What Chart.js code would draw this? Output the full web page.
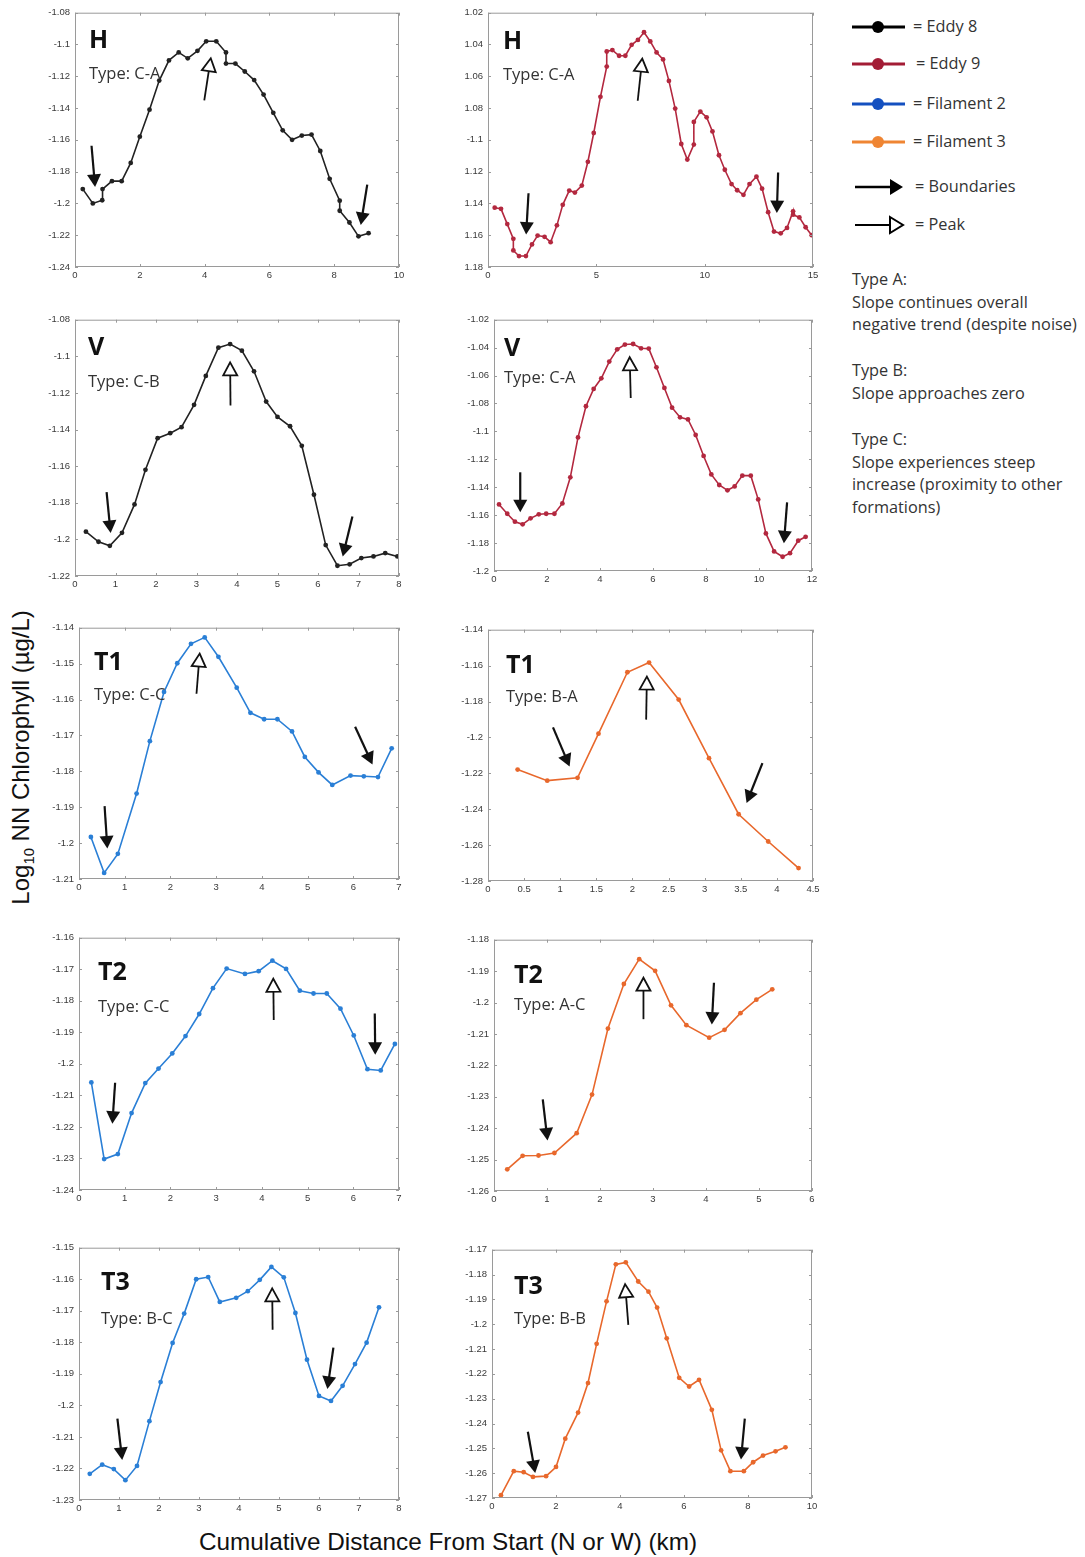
<!DOCTYPE html>
<html>
<head>
<meta charset="utf-8">
<script src="https://cdn.jsdelivr.net/npm/chart.js@4.4.1/dist/chart.umd.min.js"></script>
<style>
  body { margin: 0; background: #fff; }
  #page { position: relative; width: 1085px; height: 1557px; background: #fff; overflow: hidden; }
  canvas { position: absolute; }
  .axis-label { position: absolute; font-family: "Liberation Sans", Arial, sans-serif; color: #111; white-space: pre; text-align: center; }
  .axis-label sub { font-size: 0.62em; }
  .legend-text { position: absolute; font-family: "Open Sans", sans-serif; font-size: 16.3px; color: #333; white-space: nowrap; line-height: 22.7px; }
</style>
</head>
<body>
<div id="page">
  <div class="axis-label" id="ylab" style="font-size:24px; width:400px; left:-178px; top:742px; transform:rotate(-90deg);">Log<sub>10</sub> NN Chlorophyll (µg/L)</div>
  <div class="axis-label" id="xlab" style="font-size:24.3px; width:896px; left:0; top:1528px;">Cumulative Distance From Start (N or W) (km)</div>

  <svg style="position:absolute; left:0; top:0;" width="1085" height="250">
    <line x1="852" y1="27" x2="905" y2="27" stroke="#000" stroke-width="3"/>
    <circle cx="878" cy="27" r="6" fill="#000"/>
    <line x1="852" y1="64" x2="905" y2="64" stroke="#a31c35" stroke-width="3"/>
    <circle cx="878" cy="64" r="6" fill="#a31c35"/>
    <line x1="852" y1="104" x2="905" y2="104" stroke="#1450c0" stroke-width="3"/>
    <circle cx="878" cy="104" r="6" fill="#1450c0"/>
    <line x1="852" y1="142" x2="905" y2="142" stroke="#ef8533" stroke-width="3"/>
    <circle cx="878" cy="142" r="6" fill="#ef8533"/>
    <line x1="855" y1="187" x2="893" y2="187" stroke="#000" stroke-width="2.5"/>
    <polygon points="890,179 903,187 890,195" fill="#000"/>
    <line x1="855" y1="225" x2="890" y2="225" stroke="#000" stroke-width="2"/>
    <polygon points="890,217 903,225 890,233" fill="#fff" stroke="#000" stroke-width="2"/>
  </svg>
  <div class="legend-text" style="left:913px; top:15px;">= Eddy 8</div>
  <div class="legend-text" style="left:916px; top:52px;">= Eddy 9</div>
  <div class="legend-text" style="left:913px; top:92px;">= Filament 2</div>
  <div class="legend-text" style="left:913px; top:130px;">= Filament 3</div>
  <div class="legend-text" style="left:915px; top:175px;">= Boundaries</div>
  <div class="legend-text" style="left:915px; top:213px;">= Peak</div>
  <div class="legend-text" style="left:852px; top:268px;">Type A:<br>Slope continues overall<br>negative trend (despite noise)</div>
  <div class="legend-text" style="left:852px; top:359px;">Type B:<br>Slope approaches zero</div>
  <div class="legend-text" style="left:852px; top:428px;">Type C:<br>Slope experiences steep<br>increase (proximity to other<br>formations)</div>
</div>

<script>
// ---- data (x = km, y = log10 chlorophyll) ----

// Eddy 8, H transect
const e8H_x = [0.24,0.55,0.84,0.85,1.14,1.44,1.72,2.00,2.30,2.60,2.90,3.20,3.48,3.78,4.05,4.36,4.66,4.66,4.95,5.24,5.53,5.82,6.12,6.41,6.70,7.00,7.30,7.57,7.86,8.17,8.17,8.47,8.75,9.06];
const e8H_y = [-1.191,-1.200,-1.198,-1.191,-1.186,-1.186,-1.1745,-1.158,-1.141,-1.1227,-1.110,-1.105,-1.1087,-1.104,-1.098,-1.098,-1.105,-1.112,-1.112,-1.117,-1.1224,-1.1315,-1.143,-1.154,-1.160,-1.1573,-1.1567,-1.167,-1.1845,-1.1983,-1.2046,-1.212,-1.2207,-1.2187];

// Eddy 9, H transect
const e9H_x = [0.31,0.60,0.89,1.17,1.17,1.43,1.75,2.03,2.29,2.61,2.89,3.18,3.45,3.75,4.01,4.33,4.61,4.88,5.19,5.48,5.48,5.74,6.05,6.34,6.63,6.92,7.20,7.49,7.78,8.08,8.35,8.64,8.92,9.20,9.50,9.50,9.80,10.09,10.36,10.66,10.93,11.24,11.50,11.79,12.07,12.39,12.65,12.93,13.20,13.51,13.80,14.08,14.08,14.37,14.66,14.94];
const e9H_y = [-1.1427,-1.1434,-1.153,-1.1623,-1.1696,-1.1731,-1.1731,-1.1658,-1.1602,-1.161,-1.1644,-1.1538,-1.1409,-1.1319,-1.1332,-1.1288,-1.1138,-1.0957,-1.0729,-1.0539,-1.0444,-1.0435,-1.0471,-1.0471,-1.0402,-1.0371,-1.0323,-1.0381,-1.045,-1.0494,-1.0629,-1.0803,-1.1026,-1.1124,-1.103,-1.0887,-1.0822,-1.0858,-1.0947,-1.1097,-1.1188,-1.1278,-1.1317,-1.1346,-1.1278,-1.1232,-1.1307,-1.1455,-1.1577,-1.1588,-1.1554,-1.145,-1.1471,-1.1488,-1.155,-1.16];

// Eddy 8, V transect
const e8V_x = [0.27,0.58,0.86,1.16,1.47,1.74,2.04,2.35,2.63,2.94,3.23,3.54,3.83,4.12,4.42,4.72,5.00,5.31,5.60,5.90,6.19,6.48,6.78,7.07,7.37,7.66,7.96];
const e8V_y = [-1.1958,-1.2013,-1.2035,-1.1964,-1.1809,-1.162,-1.1447,-1.142,-1.1387,-1.1265,-1.1107,-1.0953,-1.0933,-1.0969,-1.1082,-1.1247,-1.1331,-1.1382,-1.1489,-1.1756,-1.2031,-1.2144,-1.2136,-1.2102,-1.2093,-1.2075,-1.2093];

// Eddy 9, V transect
const e9V_x = [0.19,0.50,0.79,1.08,1.38,1.69,1.97,2.28,2.58,2.88,3.17,3.47,3.76,4.05,4.35,4.65,4.94,5.25,5.55,5.84,6.13,6.43,6.72,7.02,7.32,7.61,7.91,8.20,8.50,8.81,9.08,9.37,9.69,9.97,10.26,10.57,10.89,11.17,11.48,11.76];
const e9V_y = [-1.1523,-1.159,-1.1647,-1.1666,-1.1623,-1.1594,-1.159,-1.159,-1.1516,-1.1329,-1.1043,-1.082,-1.0696,-1.062,-1.050,-1.0412,-1.0378,-1.0374,-1.0405,-1.0407,-1.0541,-1.0689,-1.083,-1.0899,-1.0914,-1.1026,-1.1176,-1.1308,-1.1384,-1.1422,-1.1394,-1.1317,-1.1317,-1.1487,-1.1731,-1.186,-1.1898,-1.1872,-1.1783,-1.1755];

// Filament 2, T1
const f2T1_x = [0.26,0.55,0.85,1.26,1.55,1.86,2.15,2.45,2.75,3.05,3.45,3.75,4.05,4.34,4.66,4.94,5.24,5.54,5.94,6.23,6.54,6.84];
const f2T1_y = [-1.1983,-1.2083,-1.203,-1.1862,-1.1716,-1.1579,-1.1499,-1.1445,-1.1427,-1.1481,-1.1567,-1.1637,-1.1655,-1.1655,-1.1689,-1.176,-1.1803,-1.1838,-1.1812,-1.1814,-1.1816,-1.1736];

// Filament 3, T1
const f3T1_x = [0.41,0.82,1.24,1.53,1.93,2.23,2.64,3.06,3.47,3.88,4.30];
const f3T1_y = [-1.2179,-1.2241,-1.2225,-1.1979,-1.1637,-1.1583,-1.1789,-1.2116,-1.2428,-1.258,-1.2728];

// Filament 2, T2
const f2T2_x = [0.27,0.55,0.85,1.15,1.45,1.74,2.04,2.33,2.63,2.93,3.23,3.63,3.93,4.23,4.53,4.83,5.13,5.42,5.72,6.01,6.31,6.60,6.91];
const f2T2_y = [-1.2059,-1.2302,-1.2286,-1.2156,-1.2061,-1.2015,-1.1967,-1.1912,-1.1842,-1.176,-1.1698,-1.1715,-1.1706,-1.1673,-1.1699,-1.1768,-1.1777,-1.1777,-1.1825,-1.191,-1.2017,-1.2021,-1.1937];

// Filament 3, T2
const f3T2_x = [0.25,0.54,0.84,1.14,1.56,1.85,2.15,2.45,2.74,3.04,3.34,3.63,4.06,4.35,4.65,4.95,5.25];
const f3T2_y = [-1.2531,-1.2488,-1.2487,-1.2479,-1.2416,-1.2293,-1.2083,-1.1941,-1.1862,-1.1899,-1.2009,-1.2072,-1.2112,-1.2087,-1.2034,-1.1991,-1.1958];

// Filament 2, T3
const f2T3_x = [0.27,0.58,0.87,1.16,1.45,1.76,2.04,2.34,2.63,2.93,3.23,3.52,3.93,4.22,4.52,4.81,5.12,5.41,5.70,6.00,6.30,6.59,6.90,7.19,7.50];
const f2T3_y = [-1.2217,-1.2188,-1.2202,-1.2237,-1.2192,-1.205,-1.1926,-1.1802,-1.1709,-1.16,-1.1593,-1.1672,-1.1659,-1.1638,-1.1602,-1.1561,-1.1594,-1.1707,-1.1855,-1.197,-1.1986,-1.1938,-1.1869,-1.1801,-1.1689];

// Filament 3, T3
const f3T3_x = [0.28,0.68,0.99,1.28,1.69,2.00,2.29,2.69,3.00,3.27,3.58,3.87,4.18,4.57,4.89,5.16,5.46,5.85,6.16,6.47,6.87,7.16,7.45,7.87,8.16,8.47,8.86,9.17];
const f3T3_y = [-1.2689,-1.2592,-1.2596,-1.2615,-1.2612,-1.2575,-1.2461,-1.2356,-1.2237,-1.2079,-1.1908,-1.1759,-1.1751,-1.1828,-1.1869,-1.1933,-1.2057,-1.2216,-1.2251,-1.2224,-1.2345,-1.2508,-1.2592,-1.2592,-1.2556,-1.2529,-1.2512,-1.2496];

// tick values
const e8H_xTicks = [0,2,4,6,8,10];
const e8H_yTicks = [-1.24,-1.22,-1.2,-1.18,-1.16,-1.14,-1.12,-1.1,-1.08];
const e9H_xTicks = [0,5,10,15];
const e9H_yTicks = [-1.18,-1.16,-1.14,-1.12,-1.1,-1.08,-1.06,-1.04,-1.02];
const e9H_yLabels = ['1.18','1.16','1.14','1.12','-1.1','1.08','1.06','1.04','1.02']; // minus signs clipped in the original
const e8V_xTicks = [0,1,2,3,4,5,6,7,8];
const e8V_yTicks = [-1.22,-1.2,-1.18,-1.16,-1.14,-1.12,-1.1,-1.08];
const e9V_xTicks = [0,2,4,6,8,10,12];
const e9V_yTicks = [-1.2,-1.18,-1.16,-1.14,-1.12,-1.1,-1.08,-1.06,-1.04,-1.02];
const f2T1_xTicks = [0,1,2,3,4,5,6,7];
const f2T1_yTicks = [-1.21,-1.2,-1.19,-1.18,-1.17,-1.16,-1.15,-1.14];
const f3T1_xTicks = [0,0.5,1,1.5,2,2.5,3,3.5,4,4.5];
const f3T1_yTicks = [-1.28,-1.26,-1.24,-1.22,-1.2,-1.18,-1.16,-1.14];
const f2T2_xTicks = [0,1,2,3,4,5,6,7];
const f2T2_yTicks = [-1.24,-1.23,-1.22,-1.21,-1.2,-1.19,-1.18,-1.17,-1.16];
const f3T2_xTicks = [0,1,2,3,4,5,6];
const f3T2_yTicks = [-1.26,-1.25,-1.24,-1.23,-1.22,-1.21,-1.2,-1.19,-1.18];
const f2T3_xTicks = [0,1,2,3,4,5,6,7,8];
const f2T3_yTicks = [-1.23,-1.22,-1.21,-1.2,-1.19,-1.18,-1.17,-1.16,-1.15];
const f3T3_xTicks = [0,2,4,6,8,10];
const f3T3_yTicks = [-1.27,-1.26,-1.25,-1.24,-1.23,-1.22,-1.21,-1.2,-1.19,-1.18,-1.17];

// annotation arrows in data units: [tailX, tailY, tipX, tipY, kind]  (b = boundary, p = peak)
const e8H_arrows = [[0.51,-1.1637,0.62,-1.1896,'b'],[9.02,-1.1882,8.82,-1.2135,'b'],[3.99,-1.1351,4.19,-1.1087,'p']];
const e9H_arrows = [[1.87,-1.1336,1.76,-1.1596,'b'],[13.39,-1.1205,13.33,-1.1461,'b'],[6.91,-1.0754,7.12,-1.0489,'p']];
const e8V_arrows = [[0.78,-1.1742,0.88,-1.1965,'b'],[6.85,-1.1875,6.61,-1.2093,'b'],[3.84,-1.1269,3.83,-1.1033,'p']];
const e9V_arrows = [[0.99,-1.1293,0.99,-1.158,'b'],[11.06,-1.1508,10.94,-1.1802,'b'],[5.16,-1.0761,5.12,-1.0469,'p']];
const f2T1_arrows = [[0.56,-1.1897,0.62,-1.2015,'b'],[6.04,-1.1676,6.42,-1.1781,'b'],[2.57,-1.1584,2.64,-1.1472,'p']];
const f3T1_arrows = [[0.90,-1.1944,1.13,-1.2162,'b'],[3.80,-1.2143,3.58,-1.2365,'b'],[2.19,-1.1901,2.20,-1.1661,'p']];
const f2T2_arrows = [[0.79,-1.206,0.73,-1.219,'b'],[6.47,-1.184,6.48,-1.1971,'b'],[4.26,-1.1861,4.25,-1.173,'p']];
const f3T2_arrows = [[0.92,-1.2308,1.01,-1.2439,'b'],[4.15,-1.1937,4.11,-1.207,'b'],[2.82,-1.2053,2.82,-1.1921,'p']];
const f2T3_arrows = [[0.96,-1.2042,1.08,-1.2173,'b'],[6.36,-1.1817,6.21,-1.1948,'b'],[4.84,-1.176,4.83,-1.1629,'p']];
const f3T3_arrows = [[1.12,-1.2433,1.35,-1.2599,'b'],[7.90,-1.238,7.78,-1.2545,'b'],[4.26,-1.2003,4.16,-1.1839,'p']];

// ---- layout & styling ----
const COLORS = { e8: '#222222', e9: '#b3283f', f2: '#2a7fd6', f3: '#e8682c' };

// plot area rectangles on the page, plus offsets of the panel texts
const panels = [
  { l: 75,  t: 12,   w: 324, h: 255, x: e8H_x,  y: e8H_y,  c: COLORS.e8, xt: e8H_xTicks,  yt: e8H_yTicks,  yl: null,        ar: e8H_arrows,  name: 'H',  type: 'Type: C-A', tx: 14, ty1: 35, ty2: 66 },
  { l: 488, t: 12,   w: 325, h: 255, x: e9H_x,  y: e9H_y,  c: COLORS.e9, xt: e9H_xTicks,  yt: e9H_yTicks,  yl: e9H_yLabels, ar: e9H_arrows,  name: 'H',  type: 'Type: C-A', tx: 15, ty1: 36, ty2: 67 },
  { l: 75,  t: 319,  w: 324, h: 257, x: e8V_x,  y: e8V_y,  c: COLORS.e8, xt: e8V_xTicks,  yt: e8V_yTicks,  yl: null,        ar: e8V_arrows,  name: 'V',  type: 'Type: C-B', tx: 13, ty1: 35, ty2: 67 },
  { l: 494, t: 319,  w: 318, h: 252, x: e9V_x,  y: e9V_y,  c: COLORS.e9, xt: e9V_xTicks,  yt: e9V_yTicks,  yl: null,        ar: e9V_arrows,  name: 'V',  type: 'Type: C-A', tx: 10, ty1: 36, ty2: 63 },
  { l: 79,  t: 627,  w: 320, h: 252, x: f2T1_x, y: f2T1_y, c: COLORS.f2, xt: f2T1_xTicks, yt: f2T1_yTicks, yl: null,        ar: f2T1_arrows, name: 'T1', type: 'Type: C-C', tx: 15, ty1: 42, ty2: 72 },
  { l: 488, t: 629,  w: 325, h: 252, x: f3T1_x, y: f3T1_y, c: COLORS.f3, xt: f3T1_xTicks, yt: f3T1_yTicks, yl: null,        ar: f3T1_arrows, name: 'T1', type: 'Type: B-A', tx: 18, ty1: 43, ty2: 72 },
  { l: 79,  t: 937,  w: 320, h: 253, x: f2T2_x, y: f2T2_y, c: COLORS.f2, xt: f2T2_xTicks, yt: f2T2_yTicks, yl: null,        ar: f2T2_arrows, name: 'T2', type: 'Type: C-C', tx: 19, ty1: 42, ty2: 74 },
  { l: 494, t: 939,  w: 318, h: 252, x: f3T2_x, y: f3T2_y, c: COLORS.f3, xt: f3T2_xTicks, yt: f3T2_yTicks, yl: null,        ar: f3T2_arrows, name: 'T2', type: 'Type: A-C', tx: 20, ty1: 43, ty2: 70 },
  { l: 79,  t: 1247, w: 320, h: 253, x: f2T3_x, y: f2T3_y, c: COLORS.f2, xt: f2T3_xTicks, yt: f2T3_yTicks, yl: null,        ar: f2T3_arrows, name: 'T3', type: 'Type: B-C', tx: 22, ty1: 42, ty2: 76 },
  { l: 492, t: 1249, w: 320, h: 249, x: f3T3_x, y: f3T3_y, c: COLORS.f3, xt: f3T3_xTicks, yt: f3T3_yTicks, yl: null,        ar: f3T3_arrows, name: 'T3', type: 'Type: B-B', tx: 22, ty1: 44, ty2: 74 }
];

const AXIS_W = 44, AXIS_H = 20, PAD_T = 10, PAD_R = 10;
const tickFont = { family: '"Liberation Sans", Arial, sans-serif', size: 9.5 };

function drawArrow(ctx, x0, y0, x1, y1, kind) {
  const dx = x1 - x0, dy = y1 - y0;
  const len = Math.hypot(dx, dy);
  const ux = dx / len, uy = dy / len;
  const nx = -uy, ny = ux;
  const headL = kind === 'b' ? 12.5 : 13;
  const headW = kind === 'b' ? 7 : 7;
  const bx = x1 - ux * headL, by = y1 - uy * headL;
  ctx.save();
  ctx.strokeStyle = '#111';
  ctx.fillStyle = '#111';
  ctx.lineWidth = kind === 'b' ? 2.2 : 1.8;
  ctx.beginPath();
  ctx.moveTo(x0, y0);
  ctx.lineTo(bx + ux * 1, by + uy * 1);
  ctx.stroke();
  ctx.beginPath();
  ctx.moveTo(x1, y1);
  ctx.lineTo(bx + nx * headW, by + ny * headW);
  ctx.lineTo(bx - nx * headW, by - ny * headW);
  ctx.closePath();
  if (kind === 'b') {
    ctx.fill();
  } else {
    ctx.fillStyle = '#fff';
    ctx.fill();
    ctx.lineWidth = 1.8;
    ctx.stroke();
  }
  ctx.restore();
}

function makeOverlay(p) {
  return {
    id: 'overlay',
    afterDatasetsDraw(chart) {
      const { ctx, chartArea: a, scales: { x, y } } = chart;
      ctx.save();
      // box with inward ticks
      ctx.strokeStyle = '#9a9a9a';
      ctx.lineWidth = 1;
      ctx.strokeRect(a.left + 0.5, a.top + 0.5, a.right - a.left - 1, a.bottom - a.top - 1);
      ctx.beginPath();
      p.yt.forEach(v => {
        const py = Math.round(y.getPixelForValue(v)) + 0.5;
        ctx.moveTo(a.left, py); ctx.lineTo(a.left + 3, py);
        ctx.moveTo(a.right, py); ctx.lineTo(a.right - 3, py);
      });
      p.xt.forEach(v => {
        const px = Math.round(x.getPixelForValue(v)) + 0.5;
        ctx.moveTo(px, a.bottom); ctx.lineTo(px, a.bottom - 3);
        ctx.moveTo(px, a.top); ctx.lineTo(px, a.top + 3);
      });
      ctx.stroke();
      // arrows
      p.ar.forEach(r => {
        drawArrow(ctx, x.getPixelForValue(r[0]), y.getPixelForValue(r[1]),
                  x.getPixelForValue(r[2]), y.getPixelForValue(r[3]), r[4]);
      });
      // panel texts
      ctx.fillStyle = '#111';
      ctx.textBaseline = 'alphabetic';
      ctx.font = 'bold 25px "Open Sans", sans-serif';
      ctx.fillText(p.name, a.left + p.tx, a.top + p.ty1);
      ctx.fillStyle = '#333';
      ctx.font = '16.5px "Open Sans", sans-serif';
      ctx.fillText(p.type, a.left + p.tx, a.top + p.ty2);
      ctx.restore();
    }
  };
}

const page = document.getElementById('page');

panels.forEach(p => {
  const cv = document.createElement('canvas');
  const cw = p.w + AXIS_W + PAD_R;
  const ch = p.h + PAD_T + AXIS_H;
  cv.width = cw;
  cv.height = ch;
  cv.style.width = cw + 'px';
  cv.style.height = ch + 'px';
  cv.style.left = (p.l - AXIS_W) + 'px';
  cv.style.top = (p.t - PAD_T) + 'px';
  page.appendChild(cv);

  new Chart(cv.getContext('2d'), {
    type: 'line',
    data: {
      datasets: [{
        data: p.x.map((xv, i) => ({ x: xv, y: p.y[i] })),
        borderColor: p.c,
        backgroundColor: p.c,
        pointBackgroundColor: p.c,
        borderWidth: 1.6,
        pointRadius: 2.4,
        pointBorderWidth: 0,
        pointHoverRadius: 2.4,
        tension: 0
      }]
    },
    options: {
      responsive: false,
      animation: false,
      events: [],
      layout: { padding: { top: PAD_T, right: PAD_R, left: 0, bottom: 0 } },
      plugins: { legend: { display: false }, tooltip: { enabled: false } },
      scales: {
        x: {
          type: 'linear',
          min: p.xt[0],
          max: p.xt[p.xt.length - 1],
          afterBuildTicks: s => { s.ticks = p.xt.map(v => ({ value: v })); },
          afterFit: s => { s.height = AXIS_H; },
          grid: { display: false, drawTicks: false },
          border: { display: false },
          ticks: {
            autoSkip: false, maxRotation: 0, padding: 3,
            color: '#3a3a3a', font: tickFont,
            callback: (v, i) => String(p.xt[i])
          }
        },
        y: {
          type: 'linear',
          min: p.yt[0],
          max: p.yt[p.yt.length - 1],
          afterBuildTicks: s => { s.ticks = p.yt.map(v => ({ value: v })); },
          afterFit: s => { s.width = AXIS_W; },
          grid: { display: false, drawTicks: false },
          border: { display: false },
          ticks: {
            autoSkip: false, padding: 5,
            color: '#3a3a3a', font: tickFont,
            callback: (v, i) => p.yl ? p.yl[i] : String(p.yt[i])
          }
        }
      }
    },
    plugins: [makeOverlay(p)]
  });
});
</script>
</body>
</html>
